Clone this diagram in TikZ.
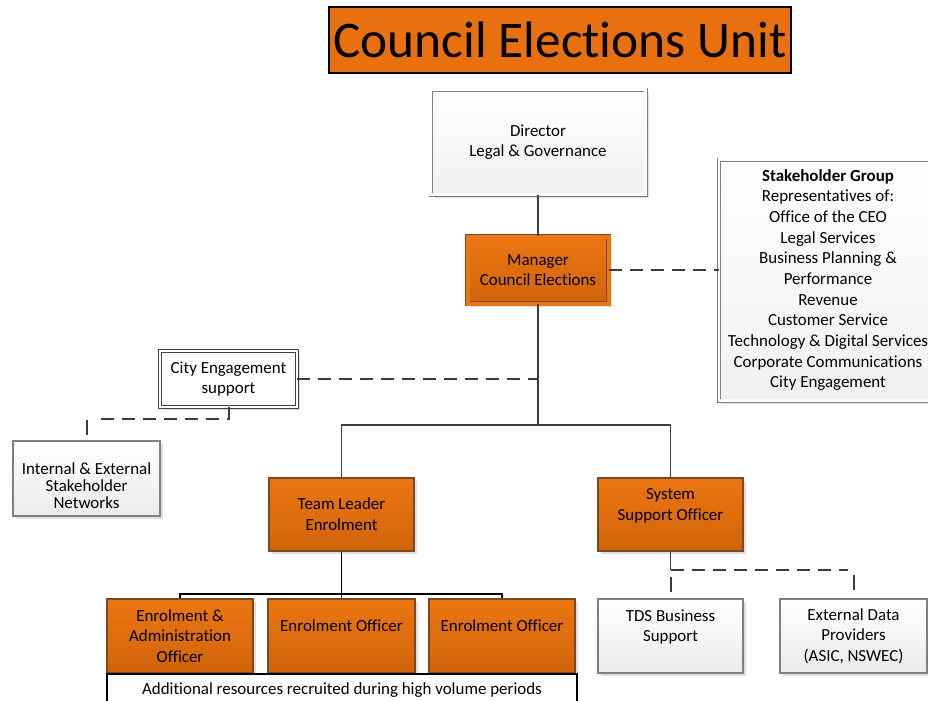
\documentclass[tikz,border=0pt]{standalone}
\usepackage{fontspec}
\setmainfont{Carlito}[Ligatures={NoCommon}]
\usetikzlibrary{shadows}
\definecolor{orT}{HTML}{EC7612}
\definecolor{orB}{HTML}{D0640A}
\definecolor{orBd}{HTML}{7B4A25}
\definecolor{ttl}{HTML}{E8700F}
\definecolor{gyBd}{HTML}{7F7F7F}
\definecolor{gyB}{HTML}{EBEBEB}
\definecolor{ln}{HTML}{3C3C3C}
\begin{document}
\begin{tikzpicture}[x=0.75pt,y=-0.75pt,
  every node/.style={font=\fontsize{12.7pt}{15.5pt}\selectfont, align=center, inner sep=0pt},
  sz/.style 2 args={minimum width=#1*0.75pt, minimum height=#2*0.75pt},
  shad/.style={drop shadow={shadow xshift=2.5pt,shadow yshift=-2.5pt,fill=black!13,opacity=1}},
  orbox/.style={shad, draw=orBd, line width=0.8pt, top color=orT, bottom color=orB},
  orboxd/.style={shad, draw=orBd, line width=0.6pt, double=orT, double distance=3pt, top color=orT, bottom color=orB},
  graybox/.style={shad, draw=gyBd, line width=0.8pt, top color=white, bottom color=gyB},
  grayboxd/.style={shad, draw=gyBd, line width=0.6pt, double=white, double distance=1.8pt, top color=white, bottom color=gyB!70},
  whiteboxd/.style={shad, draw=black!75, line width=0.6pt, double=white, double distance=1.6pt, fill=white},
  plainbox/.style={draw=black, line width=0.8pt, fill=white},
  titlebox/.style={draw=black, line width=0.8pt, fill=ttl, font=\fontsize{38.5pt}{44pt}\selectfont},
  conn/.style={draw=ln, line width=1.4pt},
  thinln/.style={draw=black, line width=1pt},
  dashln/.style={draw=ln, line width=1.5pt, dash pattern=on 9.75pt off 6pt},
  dropln/.style={draw=ln, line width=1.5pt, dash pattern=on 0pt off #1*0.75pt on 15*0.75pt off 40pt}
]
\useasboundingbox (0,0) rectangle (928,700);

\node[titlebox, sz={462}{66}] (title) at (560,40) {Council Elections Unit};
\node[grayboxd, sz={215}{105}] (dir) at (538,142) {Director\\Legal \& Governance};
\node[orboxd, sz={141}{67}] (mgr) at (538,270) {Manager\\Council Elections};
\node[grayboxd, sz={218}{241}] (stake) at (828,280) {\textbf{Stakeholder Group}\\Representatives of:\\Office of the CEO\\Legal Services\\Business Planning \&\\Performance\\Revenue\\Customer Service\\Technology \& Digital Services\\Corporate Communications\\City Engagement};
\node[whiteboxd, sz={137}{56}] (city) at (228.5,379) {City Engagement\\support};
\node[graybox, sz={147}{75}] (net) at (86.5,478.5) {};
\node[font=\fontsize{12.7pt}{12.75pt}\selectfont] (nettxt) at (86.5,486) {Internal \& External\\Stakeholder\\Networks};
\node[orbox, sz={145}{73}] (tl) at (341.5,514.5) {Team Leader\\Enrolment};
\node[orbox, sz={145}{73}] (sso) at (670.5,514.5) {System\\Support Officer\\\mbox{}};
\node[orbox, sz={146}{74}] (eao) at (180,636) {Enrolment \&\\Administration\\Officer};
\node[orbox, sz={147}{74}] (eo1) at (341.5,636) {Enrolment Officer\\\mbox{}};
\node[orbox, sz={146}{74}] (eo2) at (502,636) {Enrolment Officer\\\mbox{}};
\node[plainbox, sz={470}{32}] (add) at (342,690) {Additional resources recruited during high volume periods};
\node[graybox, sz={145}{74}] (tds) at (670.5,636) {TDS Business\\Support\\\mbox{}};
\node[graybox, sz={147}{74}] (ext) at (853.5,636) {External Data\\Providers\\(ASIC, NSWEC)};

\coordinate (hub) at (538,425);
\coordinate (bh) at (341.5,594);
\coordinate (ss) at (670.5,570);
\coordinate (c1) at (228.5,419);

\draw[conn] (dir.south) -- (mgr.north);
\draw[conn] (mgr.south) -- (hub);
\draw[conn] (tl.north) |- (hub) -| (sso.north);
\draw[dashln] (mgr.east) -- (mgr.east -| stake.west);
\draw[dashln] (city.east) -- (city.east -| mgr.south);
\draw[dashln, shorten >=7pt] (city.south) -- (c1) -- (c1 -| net.north);
\draw[dropln=1] (c1 -| net.north) -- (net.north);
\draw[thinln] (tl.south) -- (eo1.north);
\draw[thinln] (eao.north) |- (bh) -| (eo2.north);
\draw[conn] (sso.south) -- (ss);
\draw[dashln, shorten >=4pt] (ss) -- (ss -| ext.north);
\draw[dropln=7] (ss) -- (tds.north);
\draw[dropln=5] (ss -| ext.north) -- (ext.north);
\end{tikzpicture}
\end{document}
